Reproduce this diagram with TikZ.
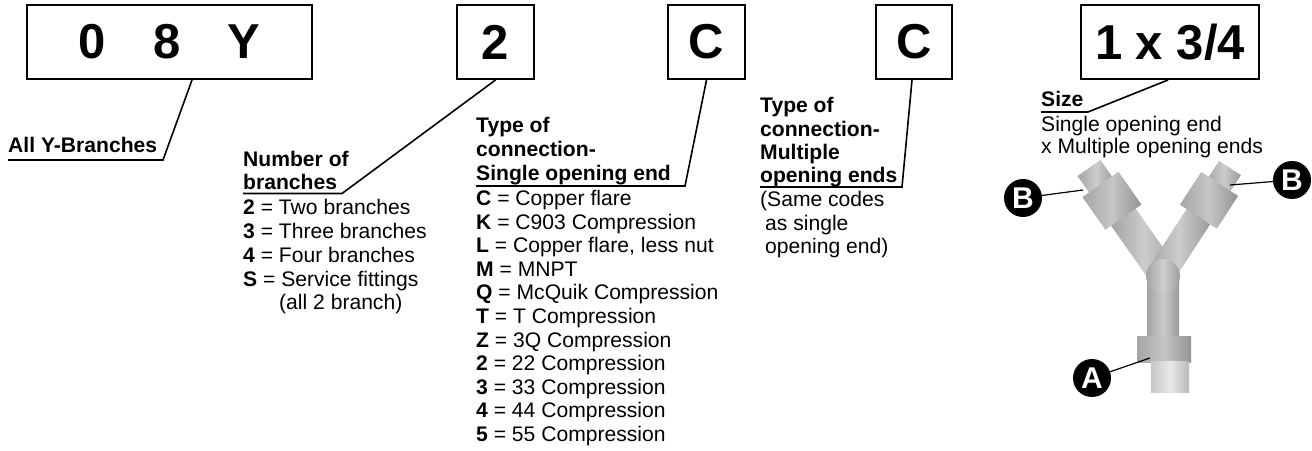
\documentclass[tikz,border=0pt]{standalone}
\usepackage{fontspec}
\setmainfont{Liberation Sans}
\begin{document}
\begin{tikzpicture}[x=1bp,y=-1bp,
  codebox/.style={draw, line width=2bp, minimum height=74bp, inner sep=0pt, font=\bfseries\fontsize{49bp}{55bp}\selectfont},
  lead/.style={line width=1.6bp},
  txt/.style={anchor=base west, inner sep=0pt, font=\fontsize{21.1bp}{24bp}\selectfont},
  hd/.style={anchor=base west, inner sep=0pt, font=\bfseries\fontsize{21.1bp}{24bp}\selectfont},
  tag/.style={circle, fill=black, minimum size=38bp, inner sep=0pt, text=white, font=\bfseries\fontsize{30bp}{30bp}\selectfont},
  tagline/.style={line width=1.2bp},
  tube/.style={left color=gray!72, right color=gray!80, middle color=gray!40},
  nut/.style={left color=gray!70, right color=gray!85, middle color=gray!45},
]
\useasboundingbox (0,0) rectangle (1312,451);

% ---- code boxes ----
\node[codebox, minimum width=285bp] (b1) at (169.5,42) {0\hspace{47bp}8\hspace{47bp}Y};
\node[codebox, minimum width=77bp] (b2) at (495.5,42) {2};
\node[codebox, minimum width=77bp] (b3) at (706.5,42) {C};
\node[codebox, minimum width=76bp] (b4) at (914,42) {C};
\node[codebox, minimum width=178bp] (b5) at (1170,42) {1 x 3/4};

% ---- block 1 ----
\node[hd] (t1) at (8,153) {All Y-Branches};
\coordinate (b1p) at ([xshift=22.5bp]b1.south);
\coordinate (u1a) at ([yshift=-7bp]t1.base west);
\coordinate (u1b) at (163,160);
\draw[lead] (b1p) -- (u1b) -- (u1a);

% ---- block 2 ----
\node[hd] (n1) at (243,167) {Number of};
\node[hd] (n2) at (243,190) {branches};
\coordinate (u2a) at ([yshift=-3.5bp]n2.base west);
\coordinate (u2b) at (342,193.5);
\draw[lead] (b2.south) -- (u2b) -- (u2a);
\node[txt] (n3) at (243,215) {\textbf{2} = Two branches};
\node[txt] (n4) at (243,239) {\textbf{3} = Three branches};
\node[txt] (n5) at (243,263) {\textbf{4} = Four branches};
\node[txt] (n6) at (243,287) {\textbf{S} = Service fittings};
\node[txt] (n7) at (279,310) {(all 2 branch)};

% ---- block 3 ----
\node[hd] (s1) at (476,133) {Type of};
\node[hd] (s2) at (476,157) {connection-};
\node[hd] (s3) at (476,181) {Single opening end};
\coordinate (u3a) at ([yshift=-5bp]s3.base west);
\coordinate (u3b) at (685,186);
\draw[lead] (b3.south) -- (u3b) -- (u3a);
\node[txt] (c1) at (476,206) {\textbf{C} = Copper flare};
\node[txt] (c2) at (476,229.5) {\textbf{K} = C903 Compression};
\node[txt] (c3) at (476,253) {\textbf{L} = Copper flare, less nut};
\node[txt] (c4) at (476,276.5) {\textbf{M} = MNPT};
\node[txt] (c5) at (476,300) {\textbf{Q} = McQuik Compression};
\node[txt] (c6) at (476,323.5) {\textbf{T} = T Compression};
\node[txt] (c7) at (476,347) {\textbf{Z} = 3Q Compression};
\node[txt] (c8) at (476,370.5) {\textbf{2} = 22 Compression};
\node[txt] (c9) at (476,394) {\textbf{3} = 33 Compression};
\node[txt] (c10) at (476,417.5) {\textbf{4} = 44 Compression};
\node[txt] (c11) at (476,441) {\textbf{5} = 55 Compression};

% ---- block 4 ----
\node[hd] (m1) at (760,113) {Type of};
\node[hd] (m2) at (760,137) {connection-};
\node[hd] (m3) at (760,160) {Multiple};
\node[hd] (m4) at (760,183) {opening ends};
\coordinate (u4a) at ([yshift=-4bp]m4.base west);
\coordinate (u4b) at (902,187);
\draw[lead] ([xshift=-2bp]b4.south) -- (u4b) -- (u4a);
\node[txt] (m5) at (760,207) {(Same codes};
\node[txt] (m6) at (765,231) {as single};
\node[txt] (m7) at (765,254) {opening end)};

% ---- block 5 ----
\node[hd] (z1) at (1041,107) {Size};
\coordinate (u5a) at ([yshift=-5bp]z1.base west);
\coordinate (u5b) at (1088,112);
\draw[lead] ([xshift=-2bp]b5.south) -- (u5b) -- (u5a);
\node[txt] (z2) at (1041,132) {Single opening end};
\node[txt] (z3) at (1041,154) {x Multiple opening ends};

% ---- Y fitting ----
\begin{scope}[shift={(1089,168)}, rotate=35]
  \shade[tube] (-14,0) rectangle (14,26);
  \shade[tube] (-15,58) rectangle (15,136);
  \shade[nut] (-22,20) rectangle (22,60);
\end{scope}
\begin{scope}[shift={(1230,168)}, rotate=-33]
  \shade[tube] (-13,0) rectangle (13,24);
  \shade[tube] (-14,56) rectangle (14,132);
  \shade[nut] (-22,19) rectangle (22,58);
\end{scope}
\shade[tube] (1147,276) rectangle (1179,342);
\shade[left color=gray!72, right color=gray!78, middle color=gray!38] (1163,276) circle (17bp);
\shade[nut] (1137,336) rectangle (1191,362);
\shade[left color=gray!45, right color=gray!55, middle color=gray!18] (1151,361) rectangle (1189,392);

% ---- tags ----
\coordinate (pa) at (1150,358);
\coordinate (pbl) at (1083,190);
\coordinate (pbr) at (1230,185);
\node[tag] (ta) at (1092,378) {A};
\node[tag] (tbl) at (1023,198) {B};
\node[tag] (tbr) at (1292,180) {B};
\draw[tagline] (ta) -- (pa);
\draw[tagline] (tbl) -- (pbl);
\draw[tagline] (tbr) -- (pbr);
\end{tikzpicture}
\end{document}
